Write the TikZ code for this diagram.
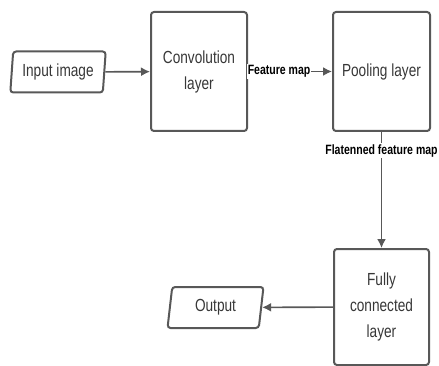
\documentclass[tikz,border=0pt]{standalone}
\usepackage{fontspec}
\setmainfont{Liberation Sans}[FakeStretch=0.78]
\usetikzlibrary{shapes.geometric,arrows.meta}
\definecolor{edgegray}{RGB}{88,88,88}
\definecolor{textgray}{RGB}{55,55,55}
\begin{document}
\begin{tikzpicture}[>={Latex[length=9pt,width=9pt]},x=1pt,y=-1pt,
    line width=2pt,
    layerbox/.style={draw=edgegray,rounded corners=3pt,text=textgray,align=center,
      font=\fontsize{17.5}{26}\selectfont,inner sep=0pt},
    iobox/.style={draw=edgegray,trapezium,trapezium left angle=82,trapezium right angle=98,
      trapezium stretches=true,rounded corners=3pt,text=textgray,
      font=\fontsize{17.5}{20}\selectfont,minimum width=96pt,minimum height=41pt,inner sep=0pt},
    flowlabel/.style={fill=white,text=black,font=\bfseries\fontsize{13.5}{16}\selectfont,inner sep=1pt},
    flow/.style={->,draw=edgegray,line width=1.6pt}]
  \useasboundingbox (0,0) rectangle (439,366);

  \node[iobox] (input) at (58,72) {Input image};
  \node[layerbox,minimum width=96pt,minimum height=119pt] (conv) at (199,71.5) {Convolution\\layer};
  \node[layerbox,minimum width=97pt,minimum height=119pt] (pool) at (381.5,71.5) {Pooling layer};
  \node[layerbox,minimum width=95pt,minimum height=116pt] (fc) at (381.5,307) {Fully\\connected\\layer};
  \node[iobox] (output) at (215.5,307.5) {Output};

  \draw[flow] (input) -- (conv);
  \draw[flow] (conv) -- node[flowlabel,pos=0.37] {Feature map} (pool);
  \draw[flow] (pool) -- node[flowlabel,pos=0.16] {Flatenned feature map} (fc);
  \draw[flow] (fc) -- (output);
\end{tikzpicture}
\end{document}
